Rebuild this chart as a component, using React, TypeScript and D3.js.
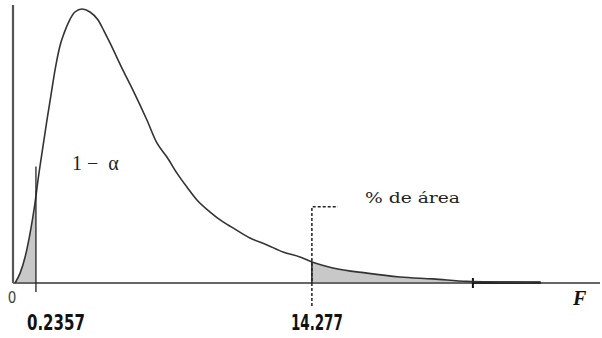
import React, { useEffect, useRef } from "react";
import * as d3 from "d3";

// density curve (x in F units, y relative density)
const curveX = [0.1, 0.34, 0.58, 0.82, 1.055, 1.2, 1.41, 1.63, 1.82, 2.04, 2.25, 2.45, 2.69, 2.97, 3.31, 3.69, 4.08, 4.36, 4.65, 5.27, 5.75, 6.42, 6.9, 7.38, 7.86, 8.34, 8.82, 9.45, 10.07, 10.55, 11.36, 12.18, 12.95, 13.76, 14.34, 15.34, 16.97, 18.55, 20.14, 21.77, 23.35, 25.27];
const curveY = [0, 0.036, 0.095, 0.182, 0.292, 0.376, 0.485, 0.595, 0.686, 0.788, 0.865, 0.912, 0.956, 0.989, 1.0, 0.989, 0.96, 0.92, 0.876, 0.777, 0.704, 0.595, 0.511, 0.46, 0.401, 0.35, 0.303, 0.259, 0.223, 0.201, 0.164, 0.139, 0.113, 0.095, 0.077, 0.055, 0.036, 0.022, 0.015, 0.006, 0.003, 0];

const lowerCrit = 1.1;
const upperCrit = 14.33;
const tailEnd = 22.05;
const critLabels = ["0.2357", "14.277"];

const WIDTH = 602;
const HEIGHT = 338;

function drawChart(container: SVGSVGElement) {
  const svg = d3.select(container);
  svg.selectAll("*").remove();

  const x = d3.scaleLinear().domain([0, 28]).range([13, 597]);
  const y = d3.scaleLinear().domain([0, 1]).range([283, 9]);

  const pts: [number, number][] = curveX.map((v, i) => [v, curveY[i]]);
  const curve = d3.curveMonotoneX;

  const line = d3
    .line<[number, number]>()
    .x((d) => x(d[0]))
    .y((d) => y(d[1]))
    .curve(curve);

  const area = d3
    .area<[number, number]>()
    .x((d) => x(d[0]))
    .y0(y(0))
    .y1((d) => y(d[1]))
    .curve(curve);

  // interpolated density for clip points
  const dens = (v: number) => {
    const i = d3.bisectLeft(curveX, v);
    if (i <= 0) return curveY[0];
    if (i >= curveX.length) return 0;
    const t = (v - curveX[i - 1]) / (curveX[i] - curveX[i - 1]);
    return curveY[i - 1] + t * (curveY[i] - curveY[i - 1]);
  };

  const leftPts: [number, number][] = [
    ...pts.filter((d) => d[0] < lowerCrit),
    [lowerCrit, dens(lowerCrit)],
  ];
  const rightPts: [number, number][] = [
    [upperCrit, dens(upperCrit)],
    ...pts.filter((d) => d[0] > upperCrit && d[0] < tailEnd),
    [tailEnd, dens(tailEnd)],
  ];

  // shaded tails
  svg.append("path").datum(leftPts).attr("fill", "#c8c8c8").attr("d", area);
  svg.append("path").datum(rightPts).attr("fill", "#c8c8c8").attr("d", area);

  // axes
  svg
    .append("line")
    .attr("x1", x(0))
    .attr("x2", x(0))
    .attr("y1", 5)
    .attr("y2", y(0))
    .attr("stroke", "#555")
    .attr("stroke-width", 2.2);

  svg
    .append("line")
    .attr("x1", x(0))
    .attr("x2", 600)
    .attr("y1", y(0))
    .attr("y2", y(0))
    .attr("stroke", "#666")
    .attr("stroke-width", 2.2);

  // dark tail segment hugging the axis
  svg
    .append("line")
    .attr("x1", x(tailEnd))
    .attr("x2", x(25.3))
    .attr("y1", y(0) - 0.5)
    .attr("y2", y(0) - 0.5)
    .attr("stroke", "#111")
    .attr("stroke-width", 2.5);

  svg
    .append("line")
    .attr("x1", x(tailEnd))
    .attr("x2", x(tailEnd))
    .attr("y1", y(0) - 5)
    .attr("y2", y(0) + 5)
    .attr("stroke", "#111")
    .attr("stroke-width", 2);

  // the curve
  svg
    .append("path")
    .datum(pts)
    .attr("fill", "none")
    .attr("stroke", "#333")
    .attr("stroke-width", 1.6)
    .attr("d", line);

  // lower critical line
  svg
    .append("line")
    .attr("x1", x(lowerCrit))
    .attr("x2", x(lowerCrit))
    .attr("y1", y(0.425))
    .attr("y2", y(0) + 9)
    .attr("stroke", "#222")
    .attr("stroke-width", 1.3);

  // upper critical line (dashed with a short elbow)
  const ux = x(upperCrit);
  svg
    .append("path")
    .attr("d", `M${ux},${y(0) + 23}V${y(0.278)}H${ux + 26}`)
    .attr("fill", "none")
    .attr("stroke", "#222")
    .attr("stroke-width", 1.5)
    .attr("stroke-dasharray", "3,2");

  svg
    .append("line")
    .attr("x1", ux)
    .attr("x2", ux)
    .attr("y1", y(dens(upperCrit)))
    .attr("y2", y(0))
    .attr("stroke", "#222")
    .attr("stroke-width", 1.5);

  // labels
  svg
    .append("text")
    .attr("x", 12)
    .attr("y", 303)
    .attr("text-anchor", "middle")
    .attr("font-family", "DejaVu Sans Condensed, DejaVu Sans")
    .attr("font-size", 15)
    .attr("fill", "#444")
    .text("0");

  const critPos = [x(lowerCrit) - 9, ux - 21];
  const critW = [58, 52];
  critLabels.forEach((t, i) => {
    svg
      .append("text")
      .attr("x", critPos[i])
      .attr("y", 330)
      .attr("font-family", "DejaVu Sans Condensed, DejaVu Sans")
      .attr("font-weight", "bold")
      .attr("font-size", 22)
      .attr("textLength", critW[i])
      .attr("lengthAdjust", "spacingAndGlyphs")
      .attr("fill", "#111")
      .text(t);
  });

  svg
    .append("text")
    .attr("x", 72)
    .attr("y", 170)
    .attr("font-family", "Liberation Serif, DejaVu Serif, serif")
    .attr("font-size", 20)
    .attr("fill", "#222")
    .attr("xml:space", "preserve")
    .text("1 −  α");

  svg
    .append("text")
    .attr("x", 365)
    .attr("y", 203)
    .attr("font-family", "'DejaVu Serif', serif")
    .attr("font-size", 14)
    .attr("textLength", 95)
    .attr("lengthAdjust", "spacingAndGlyphs")
    .attr("fill", "#222")
    .text("% de área");

  svg
    .append("text")
    .attr("x", 573)
    .attr("y", 305)
    .attr("font-family", "Liberation Serif, DejaVu Serif, serif")
    .attr("font-style", "italic")
    .attr("font-weight", "bold")
    .attr("font-size", 20)
    .attr("fill", "#111")
    .text("F");
}

const App = () => {
  const ref = useRef<SVGSVGElement>(null);

  useEffect(() => {
    if (ref.current) drawChart(ref.current);
  }, []);

  return (
    <svg
      ref={ref}
      width={WIDTH}
      height={HEIGHT}
      style={{ position: "absolute", left: 0, top: 0, background: "#fff" }}
    />
  );
};

export default App;
